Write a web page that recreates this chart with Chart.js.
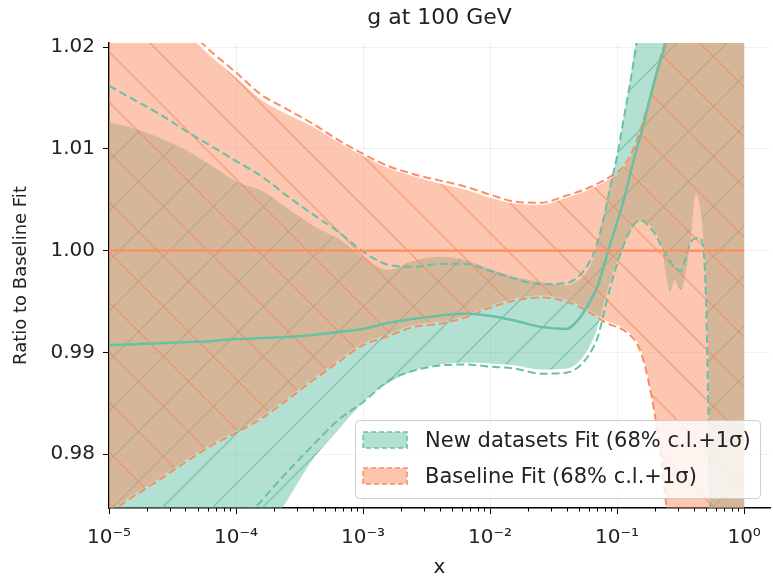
<!DOCTYPE html>
<html>
<head>
<meta charset="utf-8">
<script src="https://cdn.jsdelivr.net/npm/chart.js@4.4.1/dist/chart.umd.min.js"></script>
<style>
  html, body { margin: 0; padding: 0; background: #fff; }
  #wrap { width: 773px; height: 580px; }
</style>
</head>
<body>
<div id="wrap"><canvas id="myChart" width="773" height="580"></canvas></div>
<script>
// x grid as log10(x)
const logX = [-5, -4.8, -4.6, -4.4, -4.2, -4, -3.8, -3.6, -3.4, -3.2, -3, -2.8, -2.6, -2.4, -2.2, -2, -1.8, -1.6,
  -1.4, -1.3, -1.2, -1.15, -1.1, -1.05, -1, -0.95, -0.9, -0.85, -0.8, -0.75, -0.7, -0.65, -0.62, -0.58, -0.55, -0.5,
  -0.45, -0.42, -0.38, -0.35, -0.32, -0.3, -0.28, -0.26, -0.2, -0.1, 0];

// New datasets fit
const newCentral = [0.9907, 0.9908, 0.9909, 0.9910, 0.9911, 0.9913, 0.9914, 0.9915, 0.9917, 0.9920, 0.9923, 0.9929,
  0.9933, 0.9936, 0.9938, 0.9936, 0.9931, 0.9925, 0.9923, 0.9933, 0.9953, 0.9966, 0.9987, 1.0008, 1.0028, 1.0049,
  1.0074, 1.0098, 1.0120, 1.0145, 1.0169, 1.0190, 1.0202, 1.0216, 1.0229, 1.0250, 1.0270, 1.03, 1.03, 1.03, 1.03,
  1.03, 1.03, 1.03, 1.03, 1.03, 1.03];
const newUpper = [1.0126, 1.0120, 1.0111, 1.0099, 1.0084, 1.0068, 1.0059, 1.0042, 1.0025, 1.0012, 0.9994, 0.9981,
  0.9990, 0.9994, 0.9991, 0.9982, 0.9974, 0.9969, 0.9966, 0.9971, 0.9988, 1.0010, 1.0037, 1.0067, 1.0093, 1.0130,
  1.0167, 1.0206, 1.0250, 1.03, 1.03, 1.03, 1.03, 1.03, 1.03, 1.03, 1.03, 1.03, 1.03, 1.03, 1.03, 1.03, 1.03, 1.03,
  1.03, 1.03, 1.03];
const newLower = [0.965, 0.965, 0.965, 0.965, 0.965, 0.9680, 0.9715, 0.9754, 0.9794, 0.9823, 0.9851, 0.9870, 0.9882,
  0.9888, 0.9890, 0.9889, 0.9887, 0.9883, 0.9884, 0.9891, 0.9910, 0.9926, 0.9951, 0.9972, 0.9990, 1.0005, 1.0018,
  1.0027, 1.0029, 1.0026, 1.0018, 1.0005, 0.9980, 0.9959, 0.9971, 0.9961, 0.9985, 1.0012, 1.0055, 1.0044, 1.0010,
  0.9961, 0.9872, 0.965, 0.965, 0.965, 0.965];
const newUpperCL = [1.0162, 1.0148, 1.0134, 1.0118, 1.0103, 1.0088, 1.0073, 1.0054, 1.0036, 1.0019, 0.9999, 0.9986,
  0.9984, 0.9987, 0.9987, 0.9980, 0.9972, 0.9967, 0.9968, 0.9975, 0.9993, 1.0010, 1.0035, 1.0065, 1.0093, 1.0128,
  1.0163, 1.0202, 1.0250, 1.03, 1.03, 1.03, 1.03, 1.03, 1.03, 1.03, 1.03, 1.03, 1.03, 1.03, 1.03, 1.03, 1.03, 1.03,
  1.03, 1.03, 1.03];
const newLowerCL = [0.965, 0.965, 0.965, 0.965, 0.965, 0.9725, 0.9754, 0.9782, 0.9808, 0.9833, 0.9851, 0.9872, 0.9882,
  0.9887, 0.9888, 0.9886, 0.9884, 0.9879, 0.9880, 0.9886, 0.9902, 0.9916, 0.9941, 0.9966, 0.9987, 1.0005, 1.0019,
  1.0028, 1.0029, 1.0024, 1.0016, 1.0004, 0.9997, 0.9989, 0.9984, 0.9980, 0.9998, 1.0008, 1.0012, 1.0012, 1.0000,
  0.9951, 0.9833, 0.9725, 0.965, 0.965, 0.965];

// Baseline fit
const baseCentral = [1, 1, 1, 1, 1, 1, 1, 1, 1, 1, 1, 1, 1, 1, 1, 1, 1, 1, 1, 1, 1, 1, 1, 1, 1, 1, 1, 1, 1, 1, 1, 1,
  1, 1, 1, 1, 1, 1, 1, 1, 1, 1, 1, 1, 1, 1, 1];
const baseUpper = [1.0280, 1.0259, 1.0237, 1.0215, 1.0191, 1.0170, 1.0148, 1.0134, 1.0122, 1.0107, 1.0093, 1.0081,
  1.0073, 1.0066, 1.0060, 1.0052, 1.0046, 1.0045, 1.0052, 1.0056, 1.0061, 1.0064, 1.0067, 1.0071, 1.0074, 1.0081,
  1.0090, 1.0105, 1.0123, 1.0145, 1.0169, 1.0192, 1.0204, 1.0221, 1.0236, 1.0256, 1.0280, 1.03, 1.03, 1.03, 1.03,
  1.03, 1.03, 1.03, 1.03, 1.03, 1.03];
const baseLower = [0.9744, 0.9761, 0.9777, 0.9794, 0.9810, 0.9823, 0.9837, 0.9855, 0.9874, 0.9892, 0.9909, 0.9918,
  0.9927, 0.9930, 0.9936, 0.9946, 0.9953, 0.9956, 0.9952, 0.9947, 0.9940, 0.9936, 0.9932, 0.9929, 0.9927, 0.9924,
  0.9919, 0.9912, 0.9897, 0.9872, 0.9838, 0.9794, 0.9759, 0.9715, 0.9680, 0.965, 0.965, 0.965, 0.965, 0.965, 0.965,
  0.965, 0.965, 0.965, 0.965, 0.965, 0.965];
const baseUpperCL = [1.0283, 1.0262, 1.0240, 1.0219, 1.0196, 1.0175, 1.0153, 1.0139, 1.0125, 1.0109, 1.0095, 1.0083,
  1.0075, 1.0069, 1.0063, 1.0055, 1.0048, 1.0047, 1.0054, 1.0058, 1.0063, 1.0066, 1.0069, 1.0073, 1.0076, 1.0083,
  1.0092, 1.0107, 1.0125, 1.0147, 1.0171, 1.0194, 1.0206, 1.0223, 1.0238, 1.0258, 1.0282, 1.0302, 1.0302, 1.0302,
  1.0302, 1.0302, 1.0302, 1.0302, 1.0302, 1.0302, 1.0302];
const baseLowerCL = [0.9742, 0.9759, 0.9775, 0.9792, 0.9808, 0.9821, 0.9835, 0.9853, 0.9872, 0.9890, 0.9907, 0.9916,
  0.9925, 0.9928, 0.9934, 0.9944, 0.9951, 0.9954, 0.9950, 0.9945, 0.9938, 0.9934, 0.9930, 0.9927, 0.9925, 0.9922,
  0.9917, 0.9910, 0.9895, 0.9870, 0.9836, 0.9792, 0.9757, 0.9713, 0.9678, 0.9648, 0.9648, 0.9648, 0.9648, 0.9648,
  0.9648, 0.9648, 0.9648, 0.9648, 0.9648, 0.9648, 0.9648];

const seriesNames = ['New datasets Fit (68% c.l.+1σ)', 'Baseline Fit (68% c.l.+1σ)'];
const xTickValues = [1e-5, 1e-4, 1e-3, 1e-2, 1e-1, 1];
const xTickLabels = ['10⁻⁵', '10⁻⁴', '10⁻³', '10⁻²', '10⁻¹', '10⁰'];
const yTickValues = [0.98, 0.99, 1.00, 1.01, 1.02];
const yTickLabels = ['0.98', '0.99', '1.00', '1.01', '1.02'];

const GREEN = '#66c2a5';
const ORANGE = '#fc8d62';
const GREEN_FILL = 'rgba(102,194,165,0.5)';
const ORANGE_FILL = 'rgba(252,141,98,0.5)';

Chart.defaults.font.family = 'DejaVu Sans';
Chart.defaults.color = '#222';

function hatch(fill, line, dir, size, shift) {
  const c = document.createElement('canvas');
  c.width = size; c.height = size;
  const g = c.getContext('2d');
  g.fillStyle = fill;
  g.fillRect(0, 0, size, size);
  g.strokeStyle = line;
  g.lineWidth = 1.2;
  g.beginPath();
  for (const k of [-1, 0, 1]) {
    if (dir === 'back') { g.moveTo(k * size, 0); g.lineTo(k * size + size, size); }
    else { g.moveTo(k * size, size); g.lineTo(k * size + size, 0); }
  }
  g.stroke();
  const p = document.getElementById('myChart').getContext('2d').createPattern(c, 'repeat');
  p.setTransform(new DOMMatrix().translate(shift, 0));
  return p;
}

const orangeHatch = hatch(ORANGE_FILL, 'rgba(248,130,88,0.7)', 'back', 50, 7);
const greenHatch = hatch(GREEN_FILL, 'rgba(85,172,142,0.65)', 'fwd', 50, 20);

const X = logX.map(v => Math.pow(10, v));
const pts = arr => arr.map((y, i) => ({x: X[i], y: y}));

const line = (data, color, width, dash, order) => ({
  data: pts(data), borderColor: color, borderWidth: width, borderDash: dash,
  pointRadius: 0, fill: false, order: order, cubicInterpolationMode: 'monotone'
});

const minorTicks = {
  id: 'minorTicks',
  afterDraw(chart) {
    const xs = chart.scales.x, ctx = chart.ctx;
    ctx.save();
    ctx.strokeStyle = '#000';
    ctx.lineWidth = 1;
    ctx.beginPath();
    for (let e = -5; e < 0; e++) {
      for (let m = 2; m <= 9; m++) {
        const px = Math.round(xs.getPixelForValue(m * Math.pow(10, e))) + 0.5;
        ctx.moveTo(px, xs.top);
        ctx.lineTo(px, xs.top + 3.5);
      }
    }
    ctx.stroke();
    ctx.restore();
  }
};

const bandLegend = {
  id: 'bandLegend',
  afterDraw(chart) {
    const {ctx, chartArea} = chart;
    const w = 405, h = 78;
    const left = chartArea.right - 10 - w, top = chartArea.bottom - 10 - h;
    ctx.save();
    ctx.beginPath();
    ctx.roundRect(left + 0.5, top + 0.5, w, h, 4);
    ctx.fillStyle = 'rgba(255,255,255,0.8)';
    ctx.fill();
    ctx.strokeStyle = '#cccccc';
    ctx.lineWidth = 1;
    ctx.stroke();
    const fills = [GREEN_FILL, ORANGE_FILL], edges = [GREEN, ORANGE];
    seriesNames.forEach((name, i) => {
      const cy = top + 20 + i * 36;
      ctx.fillStyle = fills[i];
      ctx.fillRect(left + 8, cy - 8, 44, 16);
      ctx.setLineDash([5, 3]);
      ctx.strokeStyle = edges[i];
      ctx.lineWidth = 1.5;
      ctx.strokeRect(left + 8, cy - 8, 44, 16);
      ctx.setLineDash([]);
      ctx.fillStyle = '#222';
      ctx.font = '21px "DejaVu Sans"';
      ctx.textBaseline = 'middle';
      ctx.fillText(name, left + 70, cy + 2);
    });
    ctx.restore();
  }
};

const config = {
  type: 'line',
  data: {
    datasets: [
      line(baseCentral, ORANGE, 2.2, [], 0),
      line(newCentral, GREEN, 2.5, [], 1),
      line(baseUpperCL, ORANGE, 2, [8, 4], 2),
      line(baseLowerCL, ORANGE, 2, [8, 4], 2),
      line(newUpperCL, GREEN, 2, [8, 4], 3),
      line(newLowerCL, GREEN, 2, [8, 4], 3),
      {data: pts(baseUpper), borderWidth: 0, pointRadius: 0, fill: '+1', backgroundColor: orangeHatch, order: 4, cubicInterpolationMode: 'monotone'},
      {data: pts(baseLower), borderWidth: 0, pointRadius: 0, fill: false, order: 4, cubicInterpolationMode: 'monotone'},
      {data: pts(newUpper), borderWidth: 0, pointRadius: 0, fill: '+1', backgroundColor: greenHatch, order: 5, cubicInterpolationMode: 'monotone'},
      {data: pts(newLower), borderWidth: 0, pointRadius: 0, fill: false, order: 5, cubicInterpolationMode: 'monotone'}
    ]
  },
  options: {
    responsive: false,
    devicePixelRatio: 1,
    animation: false,
    events: [],
    layout: { padding: 0 },
    scales: {
      x: {
        type: 'logarithmic',
        min: 1e-5,
        max: 1.6,
        afterBuildTicks: scale => { scale.ticks = xTickValues.map(v => ({value: v, major: true})); },
        afterFit: scale => { scale.height = 72; },
        ticks: {
          autoSkip: false, maxRotation: 0, minRotation: 0, padding: 12,
          font: {size: 20}, color: '#222',
          callback: (v, i) => xTickLabels[i]
        },
        grid: { color: 'rgba(0,0,0,0.06)', tickColor: '#000', tickLength: 6, tickWidth: 1 },
        border: { color: '#000', width: 1.5 },
        title: { display: true, text: 'x', font: {size: 20}, color: '#222', padding: {top: 0, bottom: 0} }
      },
      y: {
        type: 'linear',
        min: 0.9747,
        max: 1.0204,
        afterBuildTicks: scale => { scale.ticks = yTickValues.map(v => ({value: v})); },
        afterFit: scale => { scale.width = 109; },
        ticks: {
          padding: 8, font: {size: 20}, color: '#222',
          callback: (v, i) => yTickLabels[i]
        },
        grid: { color: 'rgba(0,0,0,0.06)', tickColor: '#000', tickLength: 6, tickWidth: 1 },
        border: { color: '#000', width: 1.5 },
        title: { display: true, text: 'Ratio to Baseline Fit', font: {size: 18}, color: '#222', padding: {top: 11, bottom: 0} }
      }
    },
    plugins: {
      legend: { display: false },
      tooltip: { enabled: false },
      title: {
        display: true,
        text: 'g at 100 GeV',
        fullSize: false,
        color: '#222',
        font: {size: 22, weight: 'normal'},
        padding: {top: 5, bottom: 11.6}
      }
    }
  },
  plugins: [minorTicks, bandLegend]
};

const graficoRatio = new Chart(document.getElementById('myChart'), config);
</script>
</body>
</html>
